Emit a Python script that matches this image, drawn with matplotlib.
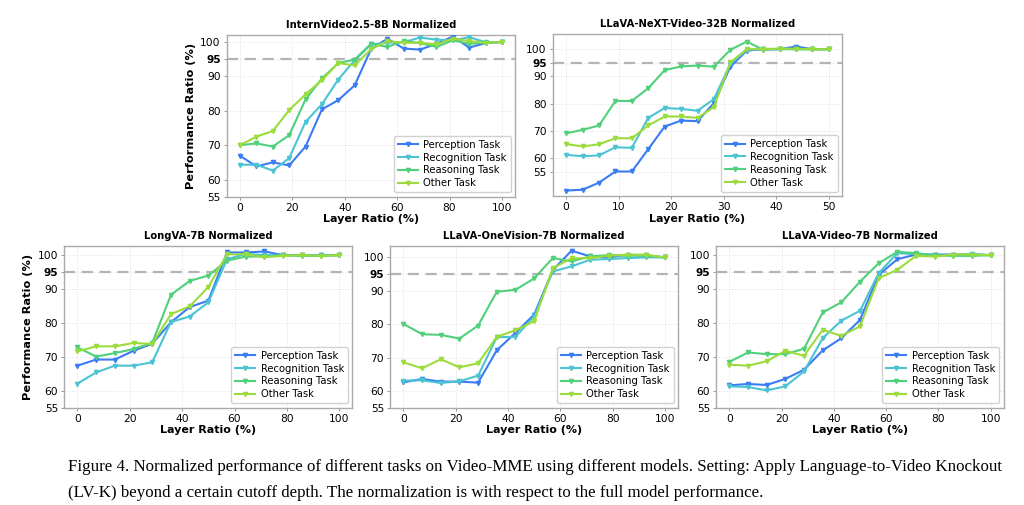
import matplotlib
matplotlib.use("Agg")
import matplotlib.pyplot as plt
import numpy as np

# Normalized performance (%) per task
tasks = ["Perception Task", "Recognition Task", "Reasoning Task", "Other Task"]
colors = ["#3b7cf4", "#4cc3d2", "#50d07a", "#9bdc3c"]

# InternVideo2.5-8B (x: 0..100, 17 points)
iv_x = np.linspace(0, 100, 17)
iv_perception = [66.9, 63.8, 65.0, 64.1, 69.6, 80.4, 83.1, 87.4, 97.9, 101.0, 98.1, 97.8, 99.5, 101.6, 98.4, 99.7, 100]
iv_recognition = [64.3, 64.3, 62.6, 66.2, 76.8, 81.9, 89.1, 94.7, 99.3, 99.8, 100, 101.3, 100.7, 100.5, 101.4, 100, 100]
iv_reasoning = [70.0, 70.5, 69.6, 72.9, 83.3, 89.4, 93.9, 94.9, 99.5, 98.6, 100.3, 99.7, 98.6, 100.5, 99.5, 99.8, 100]
iv_other = [70.0, 72.5, 74.1, 80.2, 84.8, 88.9, 93.9, 93.2, 97.9, 100.3, 99.8, 99.8, 99.3, 101.0, 100.3, 99.8, 100]

# LLaVA-NeXT-Video-32B (x: 0..50, 17 points)
nx_x = np.linspace(0, 50, 17)
nx_perception = [48.1, 48.4, 51.0, 55.1, 55.1, 63.3, 71.6, 73.8, 73.6, 80.2, 93.6, 99.5, 100, 100, 101.0, 100, 100]
nx_recognition = [61.2, 60.7, 61.0, 64.0, 63.8, 74.8, 78.4, 78.1, 77.4, 81.7, 94.6, 99.8, 100, 100, 100, 100, 100]
nx_reasoning = [69.1, 70.4, 72.0, 81.0, 81.0, 85.7, 92.3, 93.7, 94.0, 93.6, 99.8, 102.8, 99.8, 100.2, 100, 100, 100]
nx_other = [65.2, 64.3, 65.1, 67.3, 67.3, 72.0, 75.3, 75.3, 74.8, 78.8, 95.2, 100, 100.1, 100.2, 100.2, 100, 100]

# LongVA-7B (x: 0..100, 15 points)
lv_x = np.linspace(0, 100, 15)
lv_perception = [67.4, 69.2, 69.2, 71.8, 73.9, 80.2, 84.7, 86.6, 100.8, 100.8, 101.1, 100, 100, 100, 100]
lv_recognition = [62.1, 65.4, 67.4, 67.4, 68.4, 80.3, 81.9, 86.1, 98.8, 100.4, 100, 100, 100, 100, 100]
lv_reasoning = [72.8, 70.1, 71.1, 72.3, 74.1, 88.3, 92.4, 94.0, 98.4, 99.6, 99.6, 100, 99.8, 99.8, 100]
lv_other = [71.6, 73.1, 73.1, 74.1, 73.8, 82.6, 84.9, 90.6, 100.3, 100.3, 99.4, 99.8, 100, 99.8, 100]

# LLaVA-OneVision-7B (x: 0..100, 15 points)
ov_x = np.linspace(0, 100, 15)
ov_perception = [62.6, 63.6, 62.8, 62.8, 62.5, 72.2, 77.4, 82.9, 96.2, 102.0, 100.3, 100, 100.8, 100.6, 100]
ov_recognition = [63.1, 63.2, 62.4, 62.9, 64.6, 76.1, 76.2, 82.4, 95.8, 97.3, 99.3, 99.5, 99.8, 100, 100]
ov_reasoning = [80.1, 77.0, 76.8, 75.7, 79.6, 89.7, 90.3, 93.7, 99.8, 98.8, 100.3, 100.7, 100.5, 100.5, 100]
ov_other = [68.6, 66.8, 69.5, 67.1, 68.3, 76.2, 78.2, 80.9, 96.8, 99.7, 99.8, 100.5, 100.8, 100.8, 100]

# LLaVA-Video-7B (x: 0..100, 15 points)
vd_x = np.linspace(0, 100, 15)
vd_perception = [61.6, 62.0, 61.7, 63.5, 66.2, 71.9, 75.5, 80.9, 94.2, 98.8, 100.2, 100.2, 100.2, 100.2, 100]
vd_recognition = [61.3, 61.1, 60.1, 61.3, 65.7, 75.5, 80.7, 83.6, 94.7, 100.6, 100.3, 100, 100, 100.4, 100]
vd_reasoning = [68.5, 71.3, 70.8, 70.8, 72.4, 83.1, 86.1, 92.2, 97.6, 101.0, 100.6, 100, 99.8, 99.8, 100]
vd_other = [67.7, 67.4, 68.7, 71.8, 70.3, 78.0, 76.2, 79.0, 93.2, 95.7, 99.8, 99.6, 100.2, 100.2, 100]

yticks = [55, 60, 70, 80, 90, 95, 100]

W, H = 1024, 505
fig = plt.figure(figsize=(W / 100, H / 100), dpi=100)


def px_axes(left, top, right, bottom):
    return fig.add_axes([left / W, 1 - bottom / H, (right - left) / W, (bottom - top) / H])


def draw(ax, x, series, title, ylim, xticks, ylabel=False):
    ax.grid(True, color="#e0e0e0", linestyle=":", linewidth=0.7)
    ax.set_axisbelow(True)
    ax.axhline(95, color="#b4b4b4", linestyle=(0, (5, 3)), linewidth=1.6, zorder=1)
    for ys, c, lab in zip(series, colors, tasks):
        ax.plot(x, ys, color=c, marker="v", markersize=3, linewidth=1.5, label=lab, zorder=3)
    ax.set_ylim(*ylim)
    ax.set_xticks(xticks)
    ax.set_yticks(yticks)
    ax.tick_params(labelsize=7.7, length=2.5, width=0.6, color="#888888", pad=2)
    for lbl in ax.get_yticklabels():
        if lbl.get_text() == "95":
            lbl.set_fontweight("bold")
    for s in ax.spines.values():
        s.set_color("#aaaaaa")
        s.set_linewidth(1.0)
    ax.set_title(title, fontsize=7.2, fontweight="bold", pad=5)
    ax.set_xlabel("Layer Ratio (%)", fontsize=8, fontweight="bold", labelpad=1)
    if ylabel:
        ax.set_ylabel("Performance Ratio (%)", fontsize=8.2, fontweight="bold", labelpad=3)
    ax.legend(loc="lower right", fontsize=7.2, framealpha=0.9, edgecolor="#cccccc",
              handlelength=2.0, handletextpad=0.55, labelspacing=0.28, borderpad=0.4,
              borderaxespad=0.45)


ax1 = px_axes(227, 34.5, 515, 196.7)
draw(ax1, iv_x, [iv_perception, iv_recognition, iv_reasoning, iv_other],
     "InternVideo2.5-8B Normalized", (55, 102.2), [0, 20, 40, 60, 80, 100], ylabel=True)

ax2 = px_axes(553, 34, 842, 196)
draw(ax2, nx_x, [nx_perception, nx_recognition, nx_reasoning, nx_other],
     "LLaVA-NeXT-Video-32B Normalized", (46.1, 105.6), [0, 10, 20, 30, 40, 50])

ax3 = px_axes(64.3, 245.7, 352.4, 407.7)
draw(ax3, lv_x, [lv_perception, lv_recognition, lv_reasoning, lv_other],
     "LongVA-7B Normalized", (55, 102.8), [0, 20, 40, 60, 80, 100], ylabel=True)

ax4 = px_axes(390.3, 245.7, 678, 407.7)
draw(ax4, ov_x, [ov_perception, ov_recognition, ov_reasoning, ov_other],
     "LLaVA-OneVision-7B Normalized", (55, 103.5), [0, 20, 40, 60, 80, 100])

ax5 = px_axes(716.3, 245.7, 1003.7, 407.7)
draw(ax5, vd_x, [vd_perception, vd_recognition, vd_reasoning, vd_other],
     "LLaVA-Video-7B Normalized", (55, 102.8), [0, 20, 40, 60, 80, 100])

caption = ("Figure 4. Normalized performance of different tasks on Video-MME using different models. "
           "Setting: Apply Language-to-Video Knockout\n"
           "(LV-K) beyond a certain cutoff depth. The normalization is with respect to the full model performance.")
fig.text(68 / W, 1 - 459 / H, caption, ha="left", va="top", fontsize=12.2,
         family="Liberation Serif", linespacing=1.8)

fig.savefig("out.png", dpi=100)
